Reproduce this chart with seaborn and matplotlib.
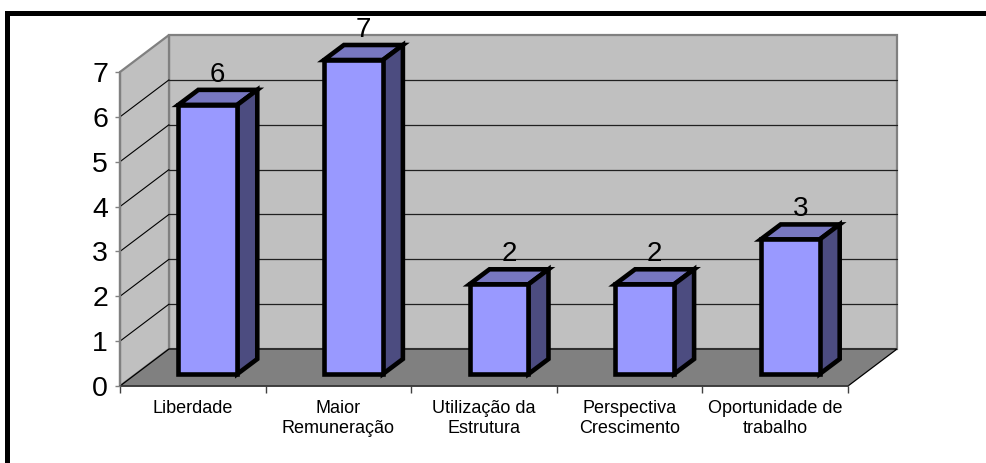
import numpy as np
import pandas as pd
import matplotlib
matplotlib.use("Agg")
import matplotlib.pyplot as plt
import seaborn as sns
from matplotlib.patches import Polygon
from matplotlib.lines import Line2D
from matplotlib.transforms import offset_copy

# Chart data
categories = ["Liberdade", "Maior\nRemuneração", "Utilização da\nEstrutura",
              "Perspectiva\nCrescimento", "Oportunidade de\ntrabalho"]
values = [6, 7, 2, 2, 3]
y_ticks = [0, 1, 2, 3, 4, 5, 6, 7]

sns.set_theme(style="white")
plt.rcParams['font.family'] = ['Liberation Sans', 'DejaVu Sans']

W, H = 987, 463
fig = plt.figure(figsize=(W / 100, H / 100), dpi=100)
fig.patch.set_facecolor("white")

# front plane of the fake 3d box, in pixels
x0_px, x1_px, y0_px, y1_px = 120, 848, 386, 72
ax = fig.add_axes([x0_px / W, (H - y0_px) / H, (x1_px - x0_px) / W, (y0_px - y1_px) / H])

df = pd.DataFrame({"cat": categories, "val": values})
sns.barplot(data=df, x="cat", y="val", ax=ax, width=0.405, color="#9999FF",
            saturation=1, edgecolor="black", linewidth=3.3)
bars = list(ax.patches)
ax.set_xlim(-0.5, len(categories) - 0.5)
ax.set_ylim(0, 7)
ax.patch.set_visible(False)
for s in ax.spines.values():
    s.set_visible(False)
ax.set_xlabel("")
ax.set_ylabel("")

# depth offsets (pixels, display coords)
WALL = (49, 37)
BAR_F = (15, 12)
BAR_B = (35, 27)


def shift(x, y, d):
    px = ax.transData.transform((x, y))
    return ax.transData.inverted().transform(px + np.array(d, dtype=float))


xl, xr = ax.get_xlim()

# walls and floor
back = Polygon([shift(xl, 0, WALL), shift(xr, 0, WALL), shift(xr, 7, WALL), shift(xl, 7, WALL)],
               closed=True, fc="#C0C0C0", ec="#808080", lw=1.6, zorder=0.1, clip_on=False)
left = Polygon([(xl, 0), (xl, 7), shift(xl, 7, WALL), shift(xl, 0, WALL)],
               closed=True, fc="#C0C0C0", ec="#808080", lw=1.6, zorder=0.1, clip_on=False)
floor = Polygon([(xl, 0), (xr, 0), shift(xr, 0, WALL), shift(xl, 0, WALL)],
                closed=True, fc="#808080", ec="black", lw=0.9, zorder=0.2, clip_on=False)
for p in (back, left, floor):
    ax.add_patch(p)

# gridlines on back and left wall
for k in y_ticks[1:-1]:
    a, b = shift(xl, k, WALL), shift(xr, k, WALL)
    ax.add_line(Line2D([a[0], b[0]], [a[1], b[1]], color="#202020", lw=0.9, zorder=0.15, clip_on=False))
    ax.add_line(Line2D([xl, a[0]], [k, a[1]], color="black", lw=0.8, zorder=0.15, clip_on=False))

# front axis lines
ax.add_line(Line2D([xl, xl], [0, 7], color="#808080", lw=1.6, zorder=0.3, clip_on=False))
ax.add_line(Line2D([xl, xr], [0, 0], color="#404040", lw=1.2, zorder=0.3, clip_on=False))

# bars: front faces from seaborn, top and side faces added
front_tr = offset_copy(ax.transData, fig=fig, x=BAR_F[0], y=BAR_F[1], units='dots')
for bar, v in zip(bars, values):
    bx, bw, bh = bar.get_x(), bar.get_width(), bar.get_height()
    bar.set_transform(front_tr)
    bar.set_zorder(3)
    bar.set_clip_on(False)
    bar.set_joinstyle("miter")
    top = Polygon([shift(bx, bh, BAR_F), shift(bx + bw, bh, BAR_F),
                   shift(bx + bw, bh, BAR_B), shift(bx, bh, BAR_B)],
                  closed=True, fc="#7777C0", ec="black", lw=3.3, zorder=2.5,
                  clip_on=False, joinstyle="miter")
    side = Polygon([shift(bx + bw, 0, BAR_F), shift(bx + bw, bh, BAR_F),
                    shift(bx + bw, bh, BAR_B), shift(bx + bw, 0, BAR_B)],
                   closed=True, fc="#4C4C80", ec="black", lw=3.3, zorder=2.5,
                   clip_on=False, joinstyle="miter")
    ax.add_patch(top)
    ax.add_patch(side)
    lx, ly = shift(bx + bw / 2, bh, (25, 35))
    ax.text(lx, ly, f"{v}", ha="center", va="baseline", fontsize=20, color="black", zorder=4)

# ticks
ax.set_yticks(y_ticks)
ax.set_yticklabels([str(t) for t in y_ticks])
ax.tick_params(axis="y", left=True, length=3.6, width=1.0, color="#808080",
               direction="out", labelsize=20.5, pad=5, labelcolor="black")
ax.set_xticks(np.arange(xl, xr + 0.01, 1))
ax.set_xticklabels([])
ax.set_xticks(range(len(categories)), minor=True)
ax.set_xticklabels(categories, minor=True, fontsize=13, linespacing=1.25)
ax.tick_params(axis="x", which="major", bottom=True, length=5, width=1.0, color="#404040", direction="out")
ax.tick_params(axis="x", which="minor", bottom=True, length=0, pad=10, labelcolor="black")

# outer frame (left and top only visible)
bx_f, by_f = 7.5 / W, 1 - 12.5 / H
fig.add_artist(Line2D([bx_f, bx_f], [0, by_f], transform=fig.transFigure, color="black",
                      lw=3.6, solid_capstyle="projecting"))
fig.add_artist(Line2D([bx_f, 1], [by_f, by_f], transform=fig.transFigure, color="black",
                      lw=3.6, solid_capstyle="projecting"))

fig.savefig("out.png", dpi=100)
